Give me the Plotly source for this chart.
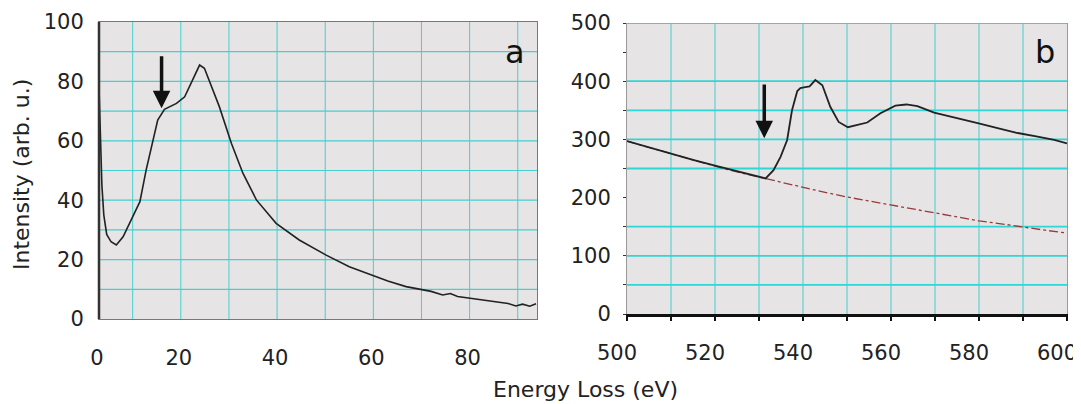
import plotly.graph_objects as go

# ---------------- data ----------------
# panel a : low-loss spectrum
LOW_E = [3.0, 3.3, 3.6, 4.0, 4.6, 5.5, 6.6, 8.0, 9.4, 11.5, 12.8, 14.2, 15.2, 16.6,
         19.1, 20.8, 22.2, 23.9, 24.9, 26.0, 28.0, 30.5, 32.9, 35.7, 39.8, 44.6,
         50.2, 55.0, 59.9, 63.0, 66.8, 70.2, 72.0, 74.4, 76.0, 77.5, 79.9, 82.0,
         85.5, 88.0, 89.6, 91.0, 92.5, 93.8]
LOW_I = [78, 60, 45, 35, 28.5, 26, 24.9, 27.7, 32.2, 39.5, 50.2, 60.3, 67, 70.6,
         72.6, 74.8, 79.9, 85.5, 84.4, 80, 71.5, 59.2, 49.1, 40.1, 32.2, 26.6,
         21.5, 17.6, 14.8, 12.8, 10.9, 10.0, 9.3, 8.1, 8.6, 7.6, 7.0, 6.5,
         5.8, 5.2, 4.4, 5.0, 4.3, 5.1]

# panel b : O K-edge
CORE_E = [500, 505, 510, 515, 520, 525, 530, 531.5, 533.3, 534.9, 536.4, 537.5,
          538.7, 539.4, 540.5, 541.5, 542.8, 544.4, 546.2, 548.1, 550.2, 552.0,
          554.6, 557.6, 561.0, 563.5, 566.0, 569.8, 575.0, 579.7, 584.0, 588.8,
          593.0, 597.1, 600]
CORE_I = [297, 286, 275, 265, 255, 245, 236, 233, 247, 270, 299, 350,
          383, 388, 390, 391, 402, 393, 356, 330, 321, 324,
          329, 345, 358, 360, 357, 346, 337, 328, 320, 311,
          305, 299, 293]
BKG_E = [500, 505, 510, 515, 520, 525, 530, 535, 540, 545, 550, 555, 560, 565,
         570, 575, 580, 585, 590, 595, 600]
BKG_I = [297, 286, 275, 264, 254, 244, 235, 226, 217, 209, 201, 194, 187, 180,
         173, 166, 160, 155, 149, 144, 139]

# axes / ticks
A_RANGE_X = [3, 94]
A_TICKVALS_X = [3, 20, 40, 60, 80]
A_TICKTEXT_X = ["0", "20", "40", "60", "80"]
A_TICKS_Y = [0, 20, 40, 60, 80, 100]
A_GRID_X = [10, 20, 30, 40, 50, 60, 70, 80, 90]
A_GRID_Y = [10, 20, 30, 40, 50, 60, 70, 80, 90]

B_TICKS_X = [500, 520, 540, 560, 580, 600]
B_TICKS_Y = [0, 100, 200, 300, 400, 500]
B_GRID_X = [510, 520, 530, 540, 550, 560, 570, 580, 590]
B_GRID_Y = [50, 100, 150, 250, 300, 350, 400, 500]

ARROW_A = dict(x=16.0, head=71, tail=89)
ARROW_B = dict(x=531.2, head=302, tail=397)

FONT = "DejaVu Sans"
GRID_COL = "#45cfcf"

W, H = 1081, 404
OFF = 8  # page offset of the plot div


def fx(px):
    return (px - OFF) / W


def fy(py):
    return 1 - (py - OFF) / H


fig = go.Figure()
fig.add_trace(go.Scatter(x=LOW_E, y=LOW_I, mode="lines",
                         line=dict(color="#222222", width=1.6),
                         xaxis="x", yaxis="y", showlegend=False))
fig.add_trace(go.Scatter(x=BKG_E, y=BKG_I, mode="lines",
                         line=dict(color="#9a3a3a", width=1.3, dash="dashdot"),
                         xaxis="x2", yaxis="y2", showlegend=False))
fig.add_trace(go.Scatter(x=CORE_E, y=CORE_I, mode="lines",
                         line=dict(color="#222222", width=1.8),
                         xaxis="x2", yaxis="y2", showlegend=False))

ax_font = dict(family=FONT, size=21, color="#222222")

shapes = []
for g in A_GRID_X:
    shapes.append(dict(type="line", xref="x", yref="y domain", x0=g, x1=g, y0=0, y1=1,
                       line=dict(color=GRID_COL, width=1), layer="below"))
for g in A_GRID_Y:
    shapes.append(dict(type="line", xref="x domain", yref="y", x0=0, x1=1, y0=g, y1=g,
                       line=dict(color=GRID_COL, width=1.2), layer="below"))
for g in B_GRID_X:
    shapes.append(dict(type="line", xref="x2", yref="y2 domain", x0=g, x1=g, y0=0, y1=1,
                       line=dict(color=GRID_COL, width=1), layer="below"))
for g in B_GRID_Y:
    shapes.append(dict(type="line", xref="x2 domain", yref="y2", x0=0, x1=1, y0=g, y1=g,
                       line=dict(color="#2fd6d6", width=1.8), layer="below"))
# thick left frame of panel a
shapes.append(dict(type="line", xref="x domain", yref="y domain", x0=0, x1=0, y0=0, y1=1,
                   line=dict(color="#333333", width=2.5)))

fig.update_layout(
    width=W, height=H,
    margin=dict(l=0, r=0, t=0, b=0, autoexpand=False),
    paper_bgcolor="white",
    plot_bgcolor="#e6e4e5",
    font=dict(family=FONT, color="#222222"),
    shapes=shapes,
    xaxis=dict(domain=[fx(99), fx(537)], range=A_RANGE_X, tickmode="array",
               tickvals=A_TICKVALS_X, ticktext=A_TICKTEXT_X, showgrid=False,
               zeroline=False, showline=True, linecolor="#777777", linewidth=1,
               mirror=True, ticks="", tickfont=ax_font, ticklabelstandoff=20,
               ticklabelshift=-2, anchor="y", automargin=False),
    yaxis=dict(domain=[fy(319), fy(22)], range=[0, 100], tickmode="array",
               tickvals=A_TICKS_Y, showgrid=False, zeroline=False, showline=True,
               linecolor="#777777", linewidth=1, mirror=True, ticks="",
               tickfont=ax_font, ticklabelstandoff=10, anchor="x", automargin=False),
    xaxis2=dict(domain=[fx(627), fx(1067)], range=[500, 600], tickmode="array",
                tickvals=B_TICKS_X, showgrid=False, zeroline=False, showline=True,
                linecolor="#111111", linewidth=3, ticks="outside", ticklen=4,
                tickcolor="#111111", tickwidth=1.5,
                minor=dict(tickvals=B_GRID_X, ticks="outside", ticklen=4,
                           tickcolor="#111111", showgrid=False),
                tickfont=ax_font, ticklabelstandoff=14, ticklabelshift=-10,
                anchor="y2", automargin=False),
    yaxis2=dict(domain=[fy(314), fy(23)], range=[0, 500], tickmode="array",
                tickvals=B_TICKS_Y, showgrid=False, zeroline=False, showline=True,
                linecolor="#9a9a9a", linewidth=1, mirror=True, ticks="outside",
                ticklen=3, tickcolor="#333333",
                minor=dict(dtick=50, ticks="outside", ticklen=3, tickcolor="#333333",
                           showgrid=False),
                tickfont=ax_font, ticklabelstandoff=8, anchor="x2", automargin=False),
    annotations=[
        dict(text="Intensity (arb. u.)", xref="paper", yref="paper", x=fx(22),
             y=fy(175), textangle=-90, showarrow=False,
             font=dict(family=FONT, size=22, color="#222222"),
             xanchor="center", yanchor="middle"),
        dict(text="Energy Loss (eV)", xref="paper", yref="paper", x=fx(585),
             y=fy(389), showarrow=False,
             font=dict(family=FONT, size=22, color="#222222"),
             xanchor="center", yanchor="middle"),
        dict(text="a", xref="x domain", yref="y domain", x=0.95, y=0.90,
             showarrow=False, font=dict(family=FONT, size=32, color="#111111"),
             xanchor="center", yanchor="middle"),
        dict(text="b", xref="x2 domain", yref="y2 domain", x=0.95, y=0.90,
             showarrow=False, font=dict(family=FONT, size=32, color="#111111"),
             xanchor="center", yanchor="middle"),
        dict(text="", x=ARROW_A["x"], y=ARROW_A["head"], ax=ARROW_A["x"], ay=ARROW_A["tail"],
             xref="x", yref="y", axref="x", ayref="y", showarrow=True, arrowhead=2,
             arrowsize=1, arrowwidth=3.5, arrowcolor="#111111"),
        dict(text="", x=ARROW_B["x"], y=ARROW_B["head"], ax=ARROW_B["x"], ay=ARROW_B["tail"],
             xref="x2", yref="y2", axref="x2", ayref="y2", showarrow=True, arrowhead=2,
             arrowsize=1, arrowwidth=3.5, arrowcolor="#111111"),
    ],
)

fig.write_html("out.html")
